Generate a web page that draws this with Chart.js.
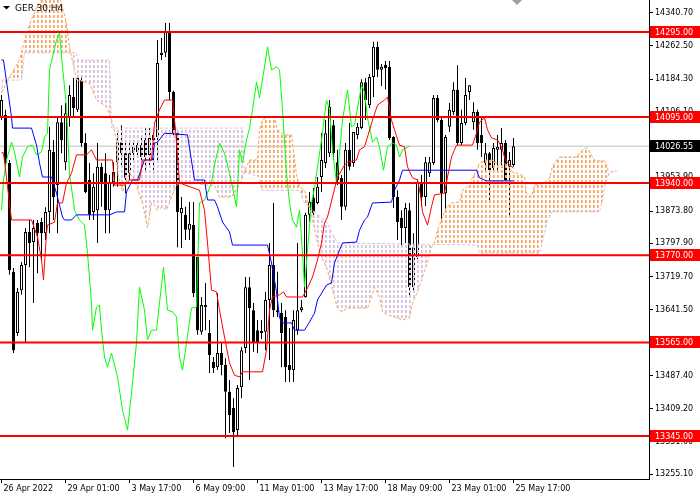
<!DOCTYPE html>
<html>
<head>
<meta charset="utf-8">
<title>GER.30,H4</title>
<script src="https://cdn.jsdelivr.net/npm/chart.js@4.4.0/dist/chart.umd.min.js"></script>
<style>
  html, body { margin: 0; padding: 0; background: #fff; }
</style>
</head>
<body>
<canvas id="chart" width="700" height="500"></canvas>
<script>
// bar index of each time label (16 H4 bars apart)
const labelIdx = [0, 16, 32, 48, 64, 80, 96, 112, 128];
const labelText = ['26 Apr 2022', '29 Apr 01:00', '3 May 17:00', '6 May 09:00', '11 May 01:00',
                   '13 May 17:00', '18 May 09:00', '23 May 01:00', '25 May 17:00'];
const priceTicks = [14340.70, 14262.50, 14184.30, 14106.10, 14027.90, 13953.90, 13873.80, 13797.90,
                    13719.70, 13641.50, 13563.30, 13487.40, 13409.20, 13331.00, 13255.10];
const levels = [14295, 14095, 13940, 13770, 13565, 13345];
const lastPrice = 14026.55;

// candles, one per H4 bar
const opens = [14095,14100,13987,13731,13587,13688,13747,13825,13801,13846,
  13848,13822,13872,14013,13935,14083,13989,14095,14142,14112,
  14182,14034,13947,13872,13876,13978,13963,13876,13942,13989,
  14036,14010,13963,14010,14013,14029,14041,14006,14041,14048,
  14241,14246,14295,14154,14057,13869,13865,13830,13841,13766,
  13590,13648,13587,13519,13507,13540,13512,13449,13411,13359,
  13460,13552,13695,13641,13594,13592,13590,13665,13747,13636,
  13634,13625,13512,13500,13594,13641,13672,13865,13905,13893,
  13954,13987,14010,14076,13989,13952,13884,14018,13987,14053,
  14069,14177,14123,14189,14260,14206,14218,14213,14048,13907,
  13858,13834,13876,13695,13766,13942,13907,13963,13987,14140,
  14088,13916,14072,14107,14159,14034,14081,14154,14083,14107,
  14053,13987,14010,13975,14018,14018,14034,13978,13982];
const highs = [14147,14112,13994,13740,13693,13754,13834,13853,13853,13853,
  13858,13883,14072,14041,14095,14123,14128,14170,14187,14189,
  14189,14057,13987,13963,14034,13987,14010,13959,13989,14057,
  14076,14034,14036,14036,14036,14048,14069,14069,14065,14276,
  14281,14316,14316,14157,14065,13907,13884,13895,13895,13766,
  13672,13705,13618,13531,13681,13564,13528,13477,13434,13465,
  13554,13719,13719,13658,13618,13618,13684,13799,13893,13731,
  13658,13641,13599,13641,13799,13665,13870,13919,13928,13954,
  14057,14088,14135,14088,14018,13959,14034,14081,14060,14081,
  14184,14187,14196,14272,14272,14220,14227,14227,14050,13923,
  13876,13893,13893,13822,13949,13959,14001,14001,14147,14147,
  14093,14053,14128,14177,14217,14112,14187,14170,14130,14112,
  14093,14034,14013,14034,14053,14069,14041,14013,14046];
const lows = [14088,13970,13724,13540,13580,13677,13564,13742,13658,13728,
  13759,13806,13822,13853,13822,14010,13970,14072,14095,14107,
  14025,13916,13853,13853,13799,13884,13822,13822,13931,13931,
  13978,13916,13947,13987,14003,13987,13970,13982,13963,13994,
  14229,14236,14135,14048,13789,13787,13806,13806,13672,13583,
  13583,13594,13493,13493,13500,13488,13340,13352,13272,13347,
  13434,13540,13477,13543,13540,13573,13547,13524,13625,13625,
  13507,13472,13472,13472,13583,13636,13670,13848,13862,13890,
  13919,13975,14001,13994,13935,13853,13876,13970,13978,14043,
  14067,14088,14116,14142,14189,14168,14160,14041,13881,13806,
  13789,13799,13672,13684,13761,13886,13886,13954,13982,14083,
  13846,13870,14060,14100,14029,14029,14076,14135,14065,14018,
  14001,13970,13900,13970,13970,13975,13940,13860,13978];
const closes = [14135,13987,13735,13547,13684,13747,13825,13799,13834,13822,
  13822,13872,14018,13907,14083,14041,14104,14147,14116,14187,
  14034,13919,13865,13931,13978,13940,13876,13942,13966,14036,
  14010,13952,14010,14025,14029,14001,14001,14046,14053,14222,
  14246,14295,14154,14057,13872,13881,13830,13844,13681,13594,
  13653,13653,13535,13505,13540,13512,13449,13394,13354,13458,
  13547,13695,13646,13566,13566,13587,13665,13747,13641,13641,
  13587,13507,13500,13618,13641,13648,13865,13895,13869,13931,
  13994,14057,14119,14010,13947,13884,14018,13978,14060,14072,
  14177,14135,14189,14260,14206,14213,14210,14046,13907,13848,
  13834,13881,13695,13789,13942,13907,13989,13989,14140,14088,
  13916,14048,14112,14159,14034,14081,14147,14170,14107,14034,
  14034,14010,13970,14022,14025,14034,13947,13994,14026.55];

// ichimoku lines as [bar, price]
const tenkan = [[0,14011],[0.5,14011],[2.5,13853],[7.5,13853],[9,13813],[10,13759],[10.5,13712],[11.25,13822],
  [11.5,13841],[13.25,13848],[14,13893],[15.25,13893],[16.25,13940],[17.5,13963],[18.75,14006],[21.25,14006],
  [22.5,14018],[23.75,13994],[27.75,13994],[28.25,13935],[30.75,13935],[32,13947],[34.5,13947],[35.25,13994],
  [37.5,13994],[38.25,14081],[39.5,14112],[40.75,14135],[42.75,14135],[43.5,14065],[44.5,13940],[49.5,13923],
  [50.75,13876],[51.5,13799],[52.5,13688],[53.75,13684],[54.5,13641],[55.75,13578],[57,13517],[58.25,13488],
  [59.5,13484],[60.25,13496],[65.25,13496],[66.25,13547],[66.5,13578],[67,13641],[67.75,13672],[69.5,13677],
  [70.5,13684],[71.25,13672],[75.25,13672],[76.5,13693],[77.75,13719],[79,13759],[80,13799],[80.75,13846],
  [81.5,13860],[82.75,13907],[84,13954],[85.75,13982],[86.5,13989],[88.75,13994],[89.5,14018],[90.75,14025],
  [91.5,14048],[92.75,14088],[94,14123],[95.75,14135],[96.5,14142],[97.5,14088],[98.25,14065],[99.5,14029],
  [100.75,14025],[101.5,13978],[102.75,13952],[104,13947],[104.75,13912],[105.25,13872],[106.5,13841],
  [107.5,13884],[108.25,13912],[110.75,13916],[111.5,13954],[112.5,14001],[113.75,14029],[117.75,14029],
  [118.75,14057],[119.5,14083],[120.75,14093],[121.5,14065],[122.5,14046],[124,14041],[125,14025],
  [125.75,14001],[126.5,13987],[128,13975]];
const kijun = [[0,14229],[0.5,14229],[2.5,14095],[2.75,14069],[7.5,14069],[8.75,14029],[9.5,13987],[10.25,13954],
  [12.5,13954],[13.75,13916],[15.25,13860],[15.75,13853],[17.5,13853],[18.75,13865],[27,13865],[28.75,13872],
  [30.75,13872],[31.25,13919],[32.75,13947],[34,13947],[35.75,13994],[37.75,13994],[38.25,14034],[39,14036],
  [40.75,14057],[46.5,14053],[48.25,13947],[50.75,13947],[51.5,13900],[53.25,13900],[54,13884],[55.25,13848],
  [57,13825],[57.75,13794],[66.5,13794],[67.5,13752],[68.75,13684],[69.5,13625],[70,13611],[72.5,13611],
  [73.25,13594],[75.75,13594],[77,13613],[78.25,13634],[79,13665],[81.25,13700],[82.5,13705],[83.25,13752],
  [84.5,13782],[85.25,13799],[88.75,13801],[89.5,13829],[90.75,13853],[91.5,13860],[92.75,13893],[97.5,13895],
  [98.25,13923],[99.5,13947],[100.25,13970],[118.75,13970],[119.5,13952],[121.25,13945],[128,13945]];
const chikou = [[0,13876],[0.5,13947],[1.25,13994],[2.5,14036],[3.25,14013],[4.5,13954],[5.25,14001],[6.5,14025],
  [7.75,14029],[8.75,14006],[10,14013],[10.75,14048],[11.5,14057],[12,14206],[13.75,14276],[14.5,14293],
  [15.25,14213],[16.25,14119],[17,13963],[18.25,13876],[19.5,13853],[20.75,13841],[21.5,13775],[22.5,13658],
  [22.75,13594],[23.75,13648],[24.5,13653],[25,13594],[25.75,13531],[26.5,13507],[27.5,13540],[29,13484],
  [30.25,13406],[31.5,13359],[32.5,13446],[33.75,13564],[34.5,13695],[35.75,13641],[36.5,13571],[37.5,13594],
  [38.75,13594],[39.5,13658],[40.5,13742],[41.5,13641],[42.75,13637],[43.75,13625],[44.5,13531],[45.25,13500],
  [46.25,13564],[47.5,13646],[48.75,13648],[49.5,13893],[50.75,13900],[52.5,13940],[53.25,13982],[54.5,14034],
  [55.75,14010],[57,13963],[58.25,13907],[58.75,13884],[59.5,14018],[60.25,13987],[61.25,14041],[62,14069],
  [62.75,14112],[63.75,14177],[64.5,14140],[65.75,14213],[66.5,14260],[67.5,14206],[68.75,14213],[69.5,14206],
  [70.25,14112],[71.25,13963],[72,13893],[72.75,13853],[73.75,13836],[74.5,13876],[75.25,13775],[75.75,13695],
  [76.5,13782],[77.5,13893],[78.25,13928],[79,13978],[80,14041],[81.25,14135],[82,14112],[82.75,14018],
  [83.75,13940],[84.5,14010],[85.25,14088],[86.5,14159],[87.5,14072],[88.25,14076],[89,14116],[90,14170],
  [90.75,14154],[91.5,14093],[92.75,14036],[93.75,14048],[94.5,14025],[95.5,13970],[96.5,14025],[97.75,14034],
  [98.75,14029],[99.5,14001],[100.25,14018],[102,14026.55]];
const spanA = [[0,14152],[2,14189],[4.5,14229],[6.25,14293],[7.75,14330],[9,14358],[10.75,14380],[14.5,14380],
  [16.25,14316],[17,14260],[18.75,14182],[22,14175],[23.75,14135],[26.25,14119],[27.75,14081],[28.75,14041],
  [29,13963],[30.25,13919],[32,13963],[33.25,13947],[34.5,13912],[35.25,13893],[36.25,13846],[36.5,13834],
  [37.5,13893],[38.25,13888],[39,13876],[40.25,13884],[41.25,13876],[42.5,13907],[43.75,13935],[45.25,13940],
  [47.5,13942],[50.75,13935],[53.25,13935],[54.5,13907],[57.5,13907],[59.5,13935],[60.75,13966],[62,13994],
  [64,13994],[64.5,14065],[65.25,14088],[66.5,14095],[68.25,14095],[69,14065],[70.75,14053],[72.5,14053],
  [73.75,13959],[74.5,13931],[75.75,13923],[77.5,13865],[79,13799],[80,13766],[81.5,13735],[82.75,13688],
  [84,13646],[85.25,13637],[86.5,13646],[91.5,13646],[92.5,13672],[93.25,13695],[94.5,13672],[95.25,13637],
  [96.5,13630],[98.25,13625],[100.25,13618],[102,13623],[102.75,13658],[104,13684],[105,13712],[106.5,13754],
  [107.5,13789],[108.25,13799],[109,13829],[110.25,13860],[111.25,13884],[112.5,13893],[114.5,13895],
  [115.25,13923],[116.5,13931],[117.75,13952],[118.75,13970],[119.5,13987],[121.25,13994],[122.5,13994],
  [123.75,13987],[125.25,13987],[126.5,13982],[127.75,13966],[129.5,13961],[130.75,13954],[131.25,13916],
  [132.5,13907],[133.25,13935],[135.75,13940],[137,13952],[137.75,13978],[138.75,13994],[139.5,14001],
  [143.75,14001],[144.5,14010],[145.75,14022],[146.5,14022],[147,14013],[147.75,14001],[148.5,13992],
  [150.75,13992],[151.5,13978],[151.75,13959],[152.5,13966],[153.75,13968]];
const spanB = [[0,14182],[5,14182],[5.75,14246],[18.75,14246],[19,14229],[27,14229],[27.5,14069],[60.25,14069],
  [60.75,13966],[64.5,13954],[65,13923],[74.5,13923],[75.75,13893],[81.5,13846],[82.5,13825],[84,13799],
  [119,13794],[119.5,13775],[134.5,13775],[135.75,13822],[136.5,13853],[137.5,13869],[137.75,13872],
  [149.5,13872],[150.25,13900],[150.75,13931],[151.5,13954],[152.5,13966],[153.75,13968]];

// view window: 4 px per bar, plot 649 x 479
const X_MIN = -0.375, X_MAX = 161.875;
const Y_MIN = 13244, Y_MAX = 14370.2;
const FONT = 'DejaVu Sans';

const canvas = document.getElementById('chart');
const ctx = canvas.getContext('2d');

function hatch(color, tint) {
  // dotted vertical stroke at each bar, like the MT4 cloud histogram
  // (a lighter second column keeps the colour from washing out)
  const tile = document.createElement('canvas');
  tile.width = 4; tile.height = 5;
  const g = tile.getContext('2d');
  g.fillStyle = color;
  g.fillRect(1, 0, 1, 3);
  g.fillStyle = tint;
  g.fillRect(2, 0, 1, 3);
  return ctx.createPattern(tile, 'repeat');
}

const pts = arr => arr.map(p => ({x: p[0], y: p[1]}));
const line = (data, color, order, extra) => Object.assign({
  type: 'line', data: pts(data), borderColor: color, borderWidth: 1,
  pointRadius: 0, tension: 0, fill: false, order: order
}, extra || {});

const wickData = lows.map((l, i) => ({x: i, y: [l, highs[i]]}));
const bodyData = opens.map((o, i) => ({x: i, y: [Math.min(o, closes[i]), Math.max(o, closes[i])]}));
const bodyFill = opens.map((o, i) => closes[i] >= o ? '#ffffff' : '#000000');

const datasets = [
  line(spanB, '#D8BFD8', 6, {borderDash: [3, 2]}),
  line(spanA, '#F4A460', 6, {borderDash: [3, 2],
    fill: {target: 0, above: hatch('#F4A460', '#F7C08F'), below: hatch('#D8BFD8', '#E4D0E4')}}),
  {type: 'bar', data: wickData, backgroundColor: '#000', borderWidth: 0,
   barThickness: 1, grouped: false, inflateAmount: 0, order: 9},
  {type: 'bar', data: bodyData, backgroundColor: bodyFill, borderColor: '#000',
   borderWidth: 1, borderSkipped: false, barThickness: 3, grouped: false,
   inflateAmount: 0, minBarLength: 1, order: 8},
  line(chikou, '#00FF00', 4),
  line(kijun, '#0000FF', 3),
  line(tenkan, '#FF0000', 2),
  line([[X_MIN, lastPrice], [X_MAX, lastPrice]], '#C0C0C0', 10)
];
levels.forEach(v => datasets.push(line([[X_MIN, v], [X_MAX, v]], '#FF0000', 1, {borderWidth: 2})));

const overlay = {
  id: 'overlay',
  afterDraw(chart) {
    const g = chart.ctx, ys = chart.scales.y, a = chart.chartArea;
    g.save();
    g.font = '8px "' + FONT + '"';
    g.textBaseline = 'middle';
    g.textAlign = 'left';
    const box = (v, bg) => {
      const py = Math.round(ys.getPixelForValue(v));
      g.fillStyle = bg;
      g.fillRect(a.right + 1, py - 6, 51, 12);
      g.fillStyle = '#fff';
      g.fillText(v.toFixed(2), a.right + 6, py + 0.5);
    };
    levels.forEach(v => box(v, '#FF0000'));
    box(lastPrice, '#000000');

    // symbol caption
    g.fillStyle = '#000';
    g.beginPath(); g.moveTo(3, 6); g.lineTo(10, 6); g.lineTo(6.5, 9.5); g.closePath(); g.fill();
    g.font = '9px "' + FONT + '"';
    g.fillText('GER.30,H4', 15, 8.5);

    // chart shift marker
    g.fillStyle = '#A0A0A0';
    g.beginPath(); g.moveTo(512, 0); g.lineTo(522, 0); g.lineTo(517, 5); g.closePath(); g.fill();
    g.restore();
  }
};

new Chart(canvas, {
  type: 'line',
  data: {datasets: datasets},
  plugins: [overlay],
  options: {
    responsive: false,
    animation: false,
    events: [],
    layout: {padding: 0, autoPadding: false},
    plugins: {legend: {display: false}, tooltip: {enabled: false}},
    scales: {
      x: {
        type: 'linear', position: 'bottom', min: X_MIN, max: X_MAX, bounds: 'data', offset: false,
        afterBuildTicks: s => { s.ticks = labelIdx.map(v => ({value: v})); },
        afterFit: s => { s.height = 21; s.paddingLeft = 0; s.paddingRight = 0; },
        ticks: {autoSkip: false, maxRotation: 0, minRotation: 0, align: 'start', labelOffset: 2, padding: 1,
                color: '#000', font: {family: FONT, size: 8}, callback: (v, i) => labelText[i]},
        grid: {drawOnChartArea: false, tickLength: 4, color: '#000', offset: false},
        border: {color: '#000'}
      },
      y: {
        type: 'linear', position: 'right', min: Y_MIN, max: Y_MAX, bounds: 'data',
        afterBuildTicks: s => { s.ticks = priceTicks.map(v => ({value: v})); },
        afterFit: s => { s.width = 51; s.paddingTop = 0; s.paddingBottom = 0; },
        ticks: {autoSkip: false, padding: 2, color: '#000', font: {family: FONT, size: 8},
                callback: v => v.toFixed(2)},
        grid: {drawOnChartArea: false, tickLength: 4, color: '#000'},
        border: {color: '#000'}
      }
    }
  }
});
</script>
</body>
</html>
